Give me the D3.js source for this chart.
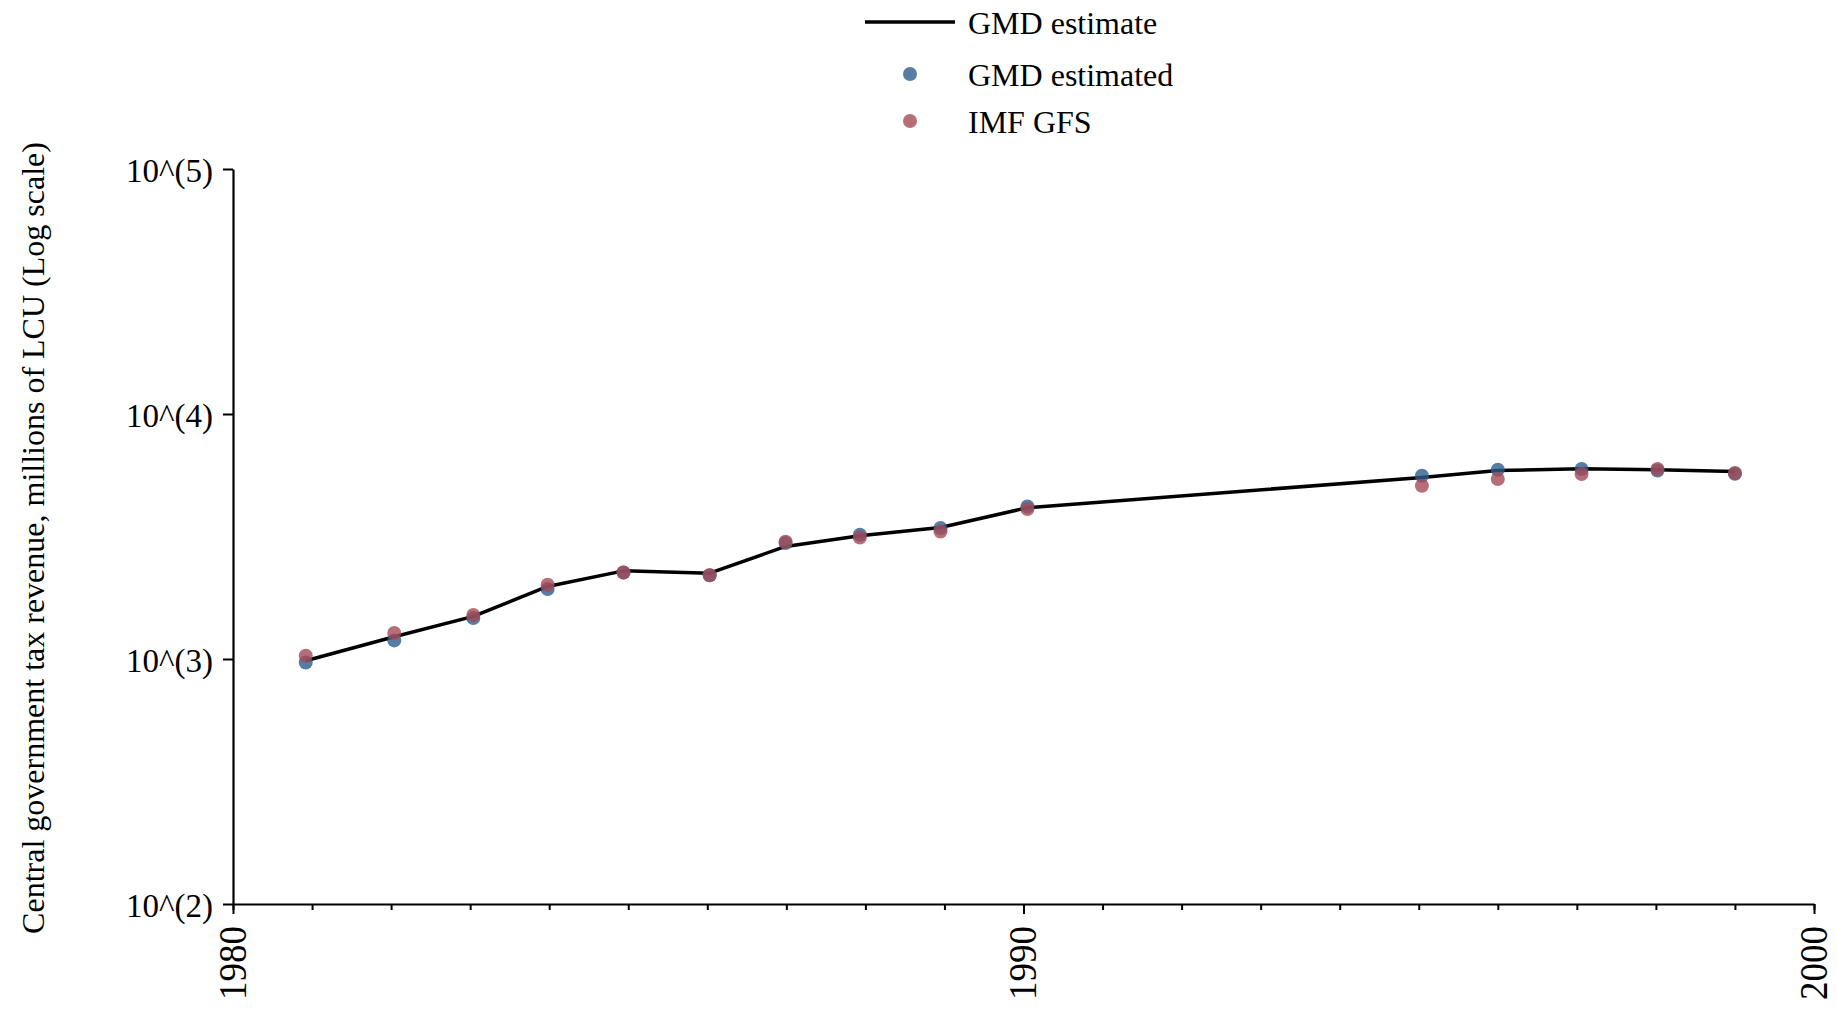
<!DOCTYPE html>
<html>
<head>
<meta charset="utf-8">
<script src="https://cdn.jsdelivr.net/npm/d3@7"></script>
<style>
  html, body { margin: 0; padding: 0; background: #fff; }
  svg { display: block; font-family: "Liberation Serif", "Times New Roman", serif; }
</style>
</head>
<body>
<svg id="chart" width="1837" height="1010"></svg>
<script>
// ---- data ----
const years      = [1980.92, 1982.04, 1983.04, 1983.98, 1984.94, 1986.03, 1986.99, 1987.93, 1988.95, 1990.05, 1995.04, 1996.0, 1997.06, 1998.02, 1999.0];
const gmdLine    = [984, 1233, 1492, 1978, 2290, 2240, 2880, 3185, 3443, 4144, 5507, 5882, 5976, 5920, 5826];
const gmdPoints  = [968, 1191, 1470, 1930, 2256, 2198, 2973, 3215, 3423, 4195, 5596, 5920, 5960, 5882, 5702];
const imfPoints  = [1032, 1277, 1512, 2010, 2256, 2198, 3010, 3134, 3315, 4093, 5093, 5425, 5686, 5960, 5741];
const xMajorTicks = [1980, 1990, 2000];
const xMinorTicks = d3.range(1980, 2001, 1);
const yTicks = [100, 1000, 10000, 100000];
const yLabel = "Central government tax revenue, millions of LCU (Log scale)";
const legendItems = [
  { label: "GMD estimate", type: "line" },
  { label: "GMD estimated", type: "dot", key: "gmd" },
  { label: "IMF GFS", type: "dot", key: "imf" }
];

// ---- styles ----
const blue = "#2c5d8c", red = "#a44a56", dotOpacity = 0.8, dotR = 7;

const svg = d3.select("#chart");
const x = d3.scaleLinear().domain([1980, 2000]).range([233, 1814]);
const y = d3.scaleLog().domain([100, 100000]).range([904, 169]);

// axes
const gx = svg.append("g").attr("transform", `translate(0,${y(100)})`);
gx.call(d3.axisBottom(x).tickValues(xMinorTicks).tickSize(6).tickFormat("").tickSizeOuter(0));
gx.call(g => g.select(".domain").remove());
const gxMaj = svg.append("g").attr("transform", `translate(0,${y(100)})`)
  .call(d3.axisBottom(x).tickValues(xMajorTicks).tickSize(10).tickFormat("").tickSizeOuter(0));
gxMaj.selectAll("path.domain").attr("stroke-width", 2.2);
svg.selectAll(".tick line").attr("stroke-width", 2);
gxMaj.selectAll(".tick").append("text")
  .attr("transform", "translate(0,22) rotate(-90) scale(1,1.1)")
  .attr("text-anchor", "end")
  .attr("dy", "0.3em")
  .attr("fill", "#000")
  .style("font-size", "37px")
  .style("font-family", "'Liberation Serif', serif")
  .text(d => d);

const gy = svg.append("g").attr("transform", `translate(${x(1980)},0)`)
  .call(d3.axisLeft(y).tickValues(yTicks).tickSize(10).tickSizeOuter(0)
        .tickFormat(d => `10^(${Math.round(Math.log10(d))})`));
gy.selectAll("path.domain").attr("stroke-width", 2.2);
gy.selectAll(".tick line").attr("stroke-width", 2);
gy.selectAll(".tick text")
  .attr("x", -20)
  .attr("dy", "0.38em")
  .style("font-size", "33px")
  .style("font-family", "'Liberation Serif', serif")
  .attr("fill", "#000");

// y label
svg.append("text")
  .attr("transform", `translate(44,538) rotate(-90)`)
  .attr("text-anchor", "middle")
  .style("font-size", "32px")
  .attr("fill", "#000")
  .text(yLabel);

// line
const lineData = years.map((yr, i) => [yr, gmdLine[i]]);
svg.append("path")
  .datum(lineData)
  .attr("fill", "none")
  .attr("stroke", "#000")
  .attr("stroke-width", 3.5)
  .attr("stroke-linejoin", "round")
  .attr("d", d3.line().x(d => x(d[0])).y(d => y(d[1])));

// points
svg.append("g").selectAll("circle")
  .data(years.map((yr, i) => [yr, gmdPoints[i]]))
  .join("circle")
  .attr("cx", d => x(d[0])).attr("cy", d => y(d[1])).attr("r", dotR)
  .attr("fill", blue).attr("fill-opacity", dotOpacity);
svg.append("g").selectAll("circle")
  .data(years.map((yr, i) => [yr, imfPoints[i]]))
  .join("circle")
  .attr("cx", d => x(d[0])).attr("cy", d => y(d[1])).attr("r", dotR)
  .attr("fill", red).attr("fill-opacity", dotOpacity);

// legend
const legendRowY = [22, 74, 121];
const lg = svg.append("g");
legendItems.forEach((it, i) => {
  const cy = legendRowY[i];
  if (it.type === "line") {
    lg.append("line").attr("x1", 865).attr("x2", 955).attr("y1", cy).attr("y2", cy)
      .attr("stroke", "#000").attr("stroke-width", 3.5);
  } else {
    lg.append("circle").attr("cx", 910).attr("cy", cy).attr("r", dotR)
      .attr("fill", it.key === "gmd" ? blue : red).attr("fill-opacity", dotOpacity);
  }
  lg.append("text").attr("x", 968).attr("y", cy).attr("dy", "0.36em")
    .style("font-size", "32px").attr("fill", "#000").text(it.label);
});
</script>
</body>
</html>
